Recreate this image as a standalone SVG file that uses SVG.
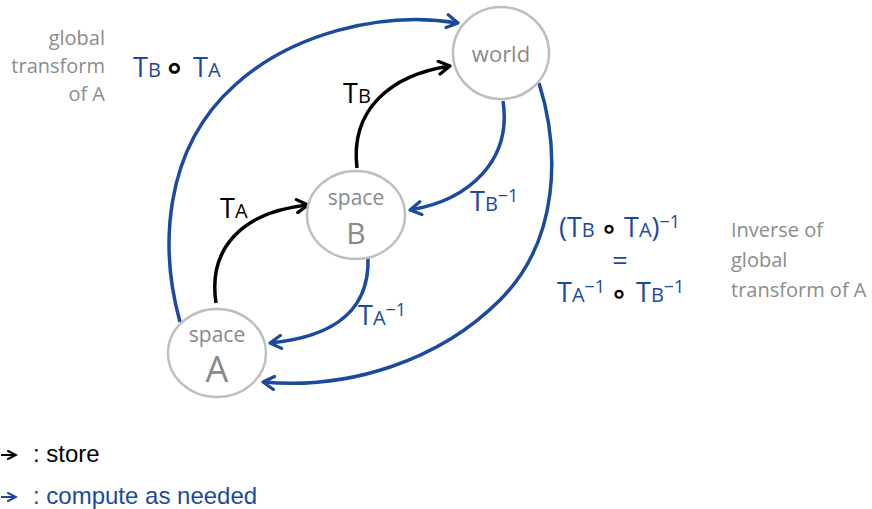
<svg xmlns="http://www.w3.org/2000/svg" width="872" height="509" viewBox="0 0 872 509">
<style>
.node{fill:#fff;stroke:#bfbfbf;stroke-width:2.5}
.nt{font-family:"Open Sans","Noto Sans",sans-serif;fill:#8a8a8a;text-anchor:middle}
.note{font-family:"Open Sans","Noto Sans",sans-serif;fill:#8c8c8c;font-size:20px}
.lab{font-family:"Open Sans","Noto Sans",sans-serif;font-size:27px}
.blue{fill:#1c4a9e}
.blk{fill:#000}
.sm{font-size:20px}
.sup{font-size:18px}
.ring{font-family:"DejaVu Sans",sans-serif;font-weight:bold;fill:#000;text-anchor:middle}
.cs{fill:none;stroke:#000;stroke-width:3.5}
.cb{fill:none;stroke:#1c4a9e;stroke-width:3.5}
.leg{font-family:"Liberation Sans",Arial,sans-serif;font-size:24px}
</style>
<defs>
<marker id="ak" viewBox="0 0 16 16" refX="13" refY="8" markerWidth="16" markerHeight="16" markerUnits="userSpaceOnUse" orient="auto">
<path d="M2,1.5 L13,8 L2,14.5" fill="none" stroke="#000" stroke-width="3.2" stroke-linecap="round" stroke-linejoin="round"/>
</marker>
<marker id="ab" viewBox="0 0 16 16" refX="13" refY="8" markerWidth="16" markerHeight="16" markerUnits="userSpaceOnUse" orient="auto">
<path d="M2,1.5 L13,8 L2,14.5" fill="none" stroke="#1c4a9e" stroke-width="3.2" stroke-linecap="round" stroke-linejoin="round"/>
</marker>
<marker id="akl" viewBox="0 0 12 12" refX="10" refY="6" markerWidth="12" markerHeight="12" markerUnits="userSpaceOnUse" orient="auto">
<path d="M2,2 L10,6 L2,10" fill="none" stroke="#000" stroke-width="2" stroke-linecap="round"/>
</marker>
<marker id="abl" viewBox="0 0 12 12" refX="10" refY="6" markerWidth="12" markerHeight="12" markerUnits="userSpaceOnUse" orient="auto">
<path d="M2,2 L10,6 L2,10" fill="none" stroke="#1c4a9e" stroke-width="2" stroke-linecap="round"/>
</marker>
</defs>

<g id="connectors">
<path class="cb" d="M180,322 C160,250 162,150 235,85 C290,35 380,10 458,23" marker-end="url(#ab)"/>
<path class="cs" d="M216,303 C208,250 240,212 308,205" marker-end="url(#ak)"/>
<path class="cs" d="M357,168 C350,110 390,75 450,66" marker-end="url(#ak)"/>
<path class="cb" d="M503,101 C512,160 470,200 410,210" marker-end="url(#ab)"/>
<path class="cb" d="M368,258 C370,320 320,338 270,343" marker-end="url(#ab)"/>
<path class="cb" d="M539,83 C560,150 560,240 500,300 C440,360 350,390 263,382" marker-end="url(#ab)"/>
</g>

<g id="world">
<ellipse class="node" cx="501" cy="53" rx="48" ry="46"/>
<text class="nt" x="501" y="62" font-size="22">world</text>
</g>
<g id="spaceB">
<ellipse class="node" cx="356" cy="215" rx="49" ry="44"/>
<text class="nt" x="356" y="205" font-size="21">space</text>
<text class="nt" x="356" y="244" font-size="30">B</text>
</g>
<g id="spaceA">
<ellipse class="node" cx="217" cy="353" rx="49" ry="44"/>
<text class="nt" x="217" y="342" font-size="21">space</text>
<text class="nt" x="217" y="382" font-size="36">A</text>
</g>

<g id="labels">
<text class="lab blk" x="343" y="103">T<tspan class="sm">B</tspan></text>
<text class="lab blk" x="220" y="218">T<tspan class="sm">A</tspan></text>
<text class="lab blue" x="470" y="211">T<tspan class="sm">B</tspan><tspan class="sup" dy="-9">−1</tspan></text>
<text class="lab blue" x="358" y="325">T<tspan class="sm">A</tspan><tspan class="sup" dy="-9">−1</tspan></text>

<text class="lab blue" x="133" y="77">T<tspan class="sm">B</tspan></text>
<text class="ring" x="174.5" y="79" font-size="34">∘</text>
<text class="lab blue" x="193" y="77">T<tspan class="sm">A</tspan></text>

<text class="lab blue" x="559" y="237" font-size="24">(T<tspan class="sm">B</tspan></text>
<text class="ring" x="609" y="238" font-size="28">∘</text>
<text class="lab blue" x="624" y="237" font-size="24">T<tspan class="sm">A</tspan>)<tspan class="sup" dy="-9">−1</tspan></text>

<text class="lab blue" x="620" y="270" font-size="24" text-anchor="middle">=</text>

<text class="lab blue" x="557" y="302" font-size="24">T<tspan class="sm">A</tspan><tspan class="sup" dy="-9">−1</tspan></text>
<text class="ring" x="619" y="303" font-size="28">∘</text>
<text class="lab blue" x="636" y="302" font-size="24">T<tspan class="sm">B</tspan><tspan class="sup" dy="-9">−1</tspan></text>
</g>

<g id="notes">
<text class="note" text-anchor="end"><tspan x="105" y="45">global</tspan><tspan x="105" y="73">transform</tspan><tspan x="105" y="101">of A</tspan></text>
<text class="note"><tspan x="731" y="237">Inverse of</tspan><tspan x="731" y="267">global</tspan><tspan x="731" y="297">transform of A</tspan></text>
</g>

<g id="legend">
<path d="M1,455 L16,455" stroke="#000" stroke-width="2" marker-end="url(#akl)"/>
<text class="leg" x="33" y="462" fill="#000">: store</text>
<path d="M1,497 L16,497" stroke="#1c4a9e" stroke-width="2" marker-end="url(#abl)"/>
<text class="leg" x="33" y="504" fill="#1c4a9e">: compute as needed</text>
</g>
</svg>
